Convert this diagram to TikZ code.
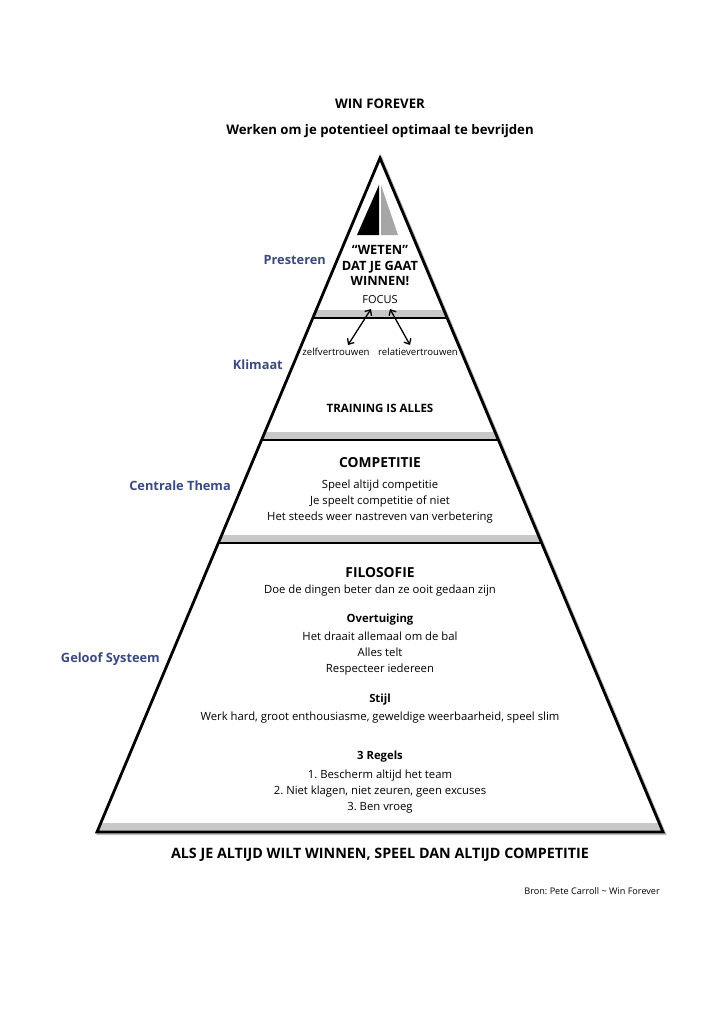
\documentclass[tikz,border=0pt]{standalone}
\usepackage{fontspec}
\setmainfont{Open Sans}
\usetikzlibrary{arrows.meta,calc}
\definecolor{labblue}{RGB}{58,74,128}
\definecolor{bandgray}{RGB}{200,200,200}
\frenchspacing
\begin{document}
\begin{tikzpicture}[x=1pt,y=-1pt,
  every node/.style={inner sep=0pt},
  body/.style={font=\fontsize{11.3}{13}\selectfont},
  body3/.style={align=center,font=\fontsize{11.3}{16}\selectfont},
  small/.style={font=\fontsize{9.6}{11}\selectfont},
  hdbig/.style={font=\bfseries\fontsize{13.8}{16}\selectfont},
  hd/.style={font=\bfseries\fontsize{11.3}{13}\selectfont},
  lab/.style={anchor=east,text=labblue,font=\bfseries\fontsize{12.8}{15}\selectfont},
  sep/.style={line width=2.4pt},
  band/.style={fill=bandgray},
  edge/.style={line width=2.8pt,line join=miter},
  shadow/.style={line width=3pt,draw=black!25},
  dbl/.style={line width=1.3pt,{Straight Barb[length=4.5pt,width=8pt]}-{Straight Barb[length=4.5pt,width=8pt]}}
]
\useasboundingbox (0,0) rectangle (724,1024);
\coordinate (apex) at (380,158);
\coordinate (bl) at (97,832);
\coordinate (br) at (663,832);
% shadow
\draw[shadow] ($(apex)+(1.5,1.5)$) -- ($(br)+(1.5,1.5)$) -- ($(bl)+(1.5,1.5)$) -- cycle;
% bands and separators
\begin{scope}
\clip (apex) -- (br) -- (bl) -- cycle;
\fill[white] (apex) -- (br) -- (bl) -- cycle;
\fill[band] (0,310) rectangle (724,317);
\fill[band] (0,432) rectangle (724,439);
\fill[band] (0,535) rectangle (724,542);
\fill[band] (0,823) rectangle (724,831);
\draw[sep] (0,318) -- (724,318);
\draw[sep] (0,440) -- (724,440);
\draw[sep] (0,543) -- (724,543);
\end{scope}
\draw[edge] (apex) -- (br) -- (bl) -- cycle;
% sail
\fill[black] (357,235) -- (379,185) -- (379,235) -- cycle;
\fill[black!35] (381,185) -- (381,235) -- (398,235) -- cycle;
% titles
\node[font=\bfseries\fontsize{13.2}{15}\selectfont] (t1) at (380,104) {WIN FOREVER};
\node[font=\bfseries\fontsize{13.2}{16}\selectfont] (t2) at (380,131) {Werken om je potentieel optimaal te bevrijden};
% top layer
\node[align=center,font=\bfseries\fontsize{12.8}{15.5}\selectfont] (weten) at (380,266) {“WETEN”\\DAT JE GAAT\\WINNEN!};
\node[font=\fontsize{11}{13}\selectfont] (focus) at (380,300) {FOCUS};
\node[small] (zelf) at (336,352) {zelfvertrouwen};
\node[small] (rel) at (418,352) {relatievertrouwen};
\coordinate (fl) at (371,309);
\coordinate (fr) at (390,309);
\coordinate (zl) at (348,345);
\coordinate (rr) at (410,345);
\draw[dbl] (fl) -- (zl);
\draw[dbl] (fr) -- (rr);
\node[font=\bfseries\fontsize{11.5}{13}\selectfont] (train) at (380,408) {TRAINING IS ALLES};
% competitie
\node[hdbig] (comp) at (380,463) {COMPETITIE};
\node[body3] (comptxt) at (380,502) {Speel altijd competitie\\Je speelt competitie of niet\\Het steeds weer nastreven van verbetering};
% filosofie
\node[hdbig] (filo) at (380,573) {FILOSOFIE};
\node[body] (doe) at (380,591) {Doe de dingen beter dan ze ooit gedaan zijn};
\node[hd] (overt) at (380,620) {Overtuiging};
\node[body3] (overttxt) at (380,654) {Het draait allemaal om de bal\\Alles telt\\Respecteer iedereen};
\node[hd] (stijl) at (380,700) {Stijl};
\node[body] (stijltxt) at (380,718) {Werk hard, groot enthousiasme, geweldige weerbaarheid, speel slim};
\node[hd] (regels) at (380,757) {3 Regels};
\node[body3] (regtxt) at (380,792) {1. Bescherm altijd het team\\2. Niet klagen, niet zeuren, geen excuses\\3. Ben vroeg};
% labels
\node[lab] (l1) at (326,260) {Presteren};
\node[lab] (l2) at (283,365) {Klimaat};
\node[lab] (l3) at (231,486) {Centrale Thema};
\node[lab] (l4) at (160,659) {Geloof Systeem};
% bottom
\node[font=\bfseries\fontsize{14.3}{17}\selectfont] (bottom) at (380,855) {ALS JE ALTIJD WILT WINNEN, SPEEL DAN ALTIJD COMPETITIE};
\node[anchor=east,font=\fontsize{9.1}{11}\selectfont] (bron) at (660,891) {Bron: Pete Carroll \char`~{} Win Forever};
\end{tikzpicture}
\end{document}
